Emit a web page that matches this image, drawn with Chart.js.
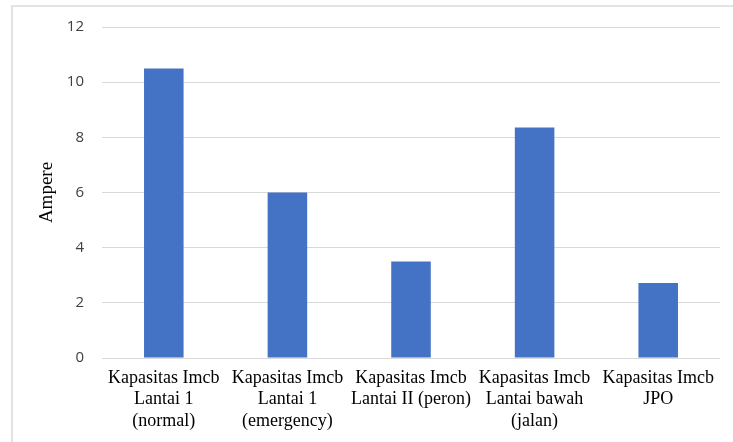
<!DOCTYPE html>
<html>
<head>
<meta charset="utf-8">
<script src="https://cdn.jsdelivr.net/npm/chart.js@4.4.1/dist/chart.umd.min.js"></script>
<style>
  html, body { margin: 0; padding: 0; background: #fff; }
  #wrap { position: relative; width: 733px; height: 442px; }
  #frame {
    position: absolute; left: 11px; top: 5px; right: 0; bottom: 0;
    border-left: 2px solid #e3e3e3; border-top: 2px solid #e3e3e3;
    pointer-events: none;
  }
  canvas { position: absolute; left: 0; top: 0; }
</style>
</head>
<body>
<div id="wrap">
  <canvas id="chart" width="733" height="442"></canvas>
  <div id="frame"></div>
</div>
<script>
const categories = [
  ['Kapasitas Imcb', 'Lantai 1', '(normal)'],
  ['Kapasitas Imcb', 'Lantai 1', '(emergency)'],
  ['Kapasitas Imcb', 'Lantai II (peron)'],
  ['Kapasitas Imcb', 'Lantai bawah', '(jalan)'],
  ['Kapasitas Imcb', 'JPO']
];
const ampere = [10.5, 6, 3.5, 8.36, 2.72];
const yMin = 0;
const yMax = 12;
const yStep = 2;

const serif = '"Liberation Serif", "Times New Roman", serif';
const sans = '"Open Sans", "Liberation Sans", sans-serif';

new Chart(document.getElementById('chart'), {
  type: 'bar',
  data: {
    labels: categories,
    datasets: [{
      label: 'Ampere',
      data: ampere,
      backgroundColor: '#4472C4',
      borderWidth: 0,
      categoryPercentage: 1,
      barPercentage: 0.32
    }]
  },
  options: {
    responsive: false,
    animation: false,
    layout: { padding: { top: 27, right: 13, left: 0, bottom: 0 } },
    plugins: {
      legend: { display: false },
      tooltip: { enabled: false }
    },
    scales: {
      x: {
        grid: { display: false, drawTicks: false },
        border: { display: false },
        ticks: {
          color: '#000',
          font: { family: serif, size: 18, lineHeight: 1.2 },
          padding: 9,
          maxRotation: 0,
          autoSkip: false
        },
        afterFit: scale => { scale.height = 84; }
      },
      y: {
        min: yMin,
        max: yMax,
        grid: { color: '#d9d9d9', lineWidth: 1, drawTicks: false },
        border: { display: false },
        ticks: {
          stepSize: yStep,
          color: '#404040',
          font: { family: sans, size: 15 },
          padding: 18
        },
        title: {
          display: true,
          text: 'Ampere',
          color: '#000',
          font: { family: serif, size: 19, lineHeight: 1.2 },
          padding: { top: 36, bottom: 0 }
        },
        afterFit: scale => { scale.width = 102; }
      }
    }
  }
});
</script>
</body>
</html>
